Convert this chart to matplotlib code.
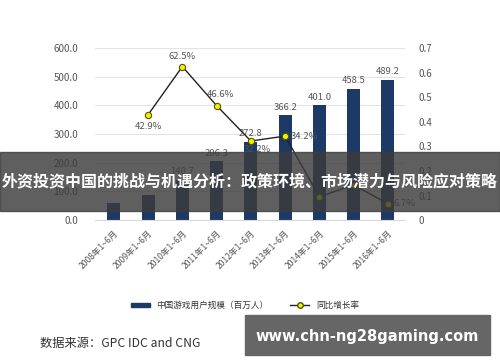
import matplotlib.pyplot as plt
from matplotlib.patches import Rectangle
from matplotlib.lines import Line2D

plt.rcParams['font.family'] = ['Noto Sans CJK SC', 'DejaVu Sans']

periods = ['2008年1~6月', '2009年1~6月', '2010年1~6月', '2011年1~6月', '2012年1~6月',
           '2013年1~6月', '2014年1~6月', '2015年1~6月', '2016年1~6月']
users = [60.6, 86.6, 140.7, 206.3, 272.8, 366.2, 401.0, 458.5, 489.2]
bar_labels = ['', '', '140.7', '206.3', '272.8', '366.2', '401.0', '458.5', '489.2']
growth = [None, 0.429, 0.625, 0.466, 0.322, 0.342, 0.095, 0.143, 0.067]
growth_labels = ['', '42.9%', '62.5%', '46.6%', '32.2%', '34.2%', '', '', '6.7%']

bar_color = '#1d3a66'
txt = '#555555'

fig = plt.figure(figsize=(5, 3.62), dpi=100)
ax = fig.add_axes([0.19, 0.392, 0.62, 0.475])
ax2 = ax.twinx()

x = list(range(len(periods)))
ax.bar(x, users, width=0.38, color=bar_color, zorder=2)
ax.set_ylim(0, 600)
ax.set_xlim(-0.55, 8.5)
ax.set_yticks(range(0, 601, 100))
ax.set_yticklabels(['%.1f' % v for v in range(0, 601, 100)], fontsize=7, color=txt)
ax.grid(axis='y', color='#e3e3e3', lw=0.8, zorder=0)
ax.set_xticks(x)
ax.set_xticklabels(periods, rotation=45, ha='right', rotation_mode='anchor', fontsize=6.2, color=txt)
for s in ax.spines.values():
    s.set_visible(False)
for s in ax2.spines.values():
    s.set_visible(False)
ax.spines['bottom'].set_visible(True)
ax.spines['bottom'].set_color('#d9d9d9')
ax.tick_params(axis='y', length=0, pad=12)
ax.tick_params(axis='x', length=0, pad=6)

for xi, v, lab in zip(x, users, bar_labels):
    if lab:
        ax.text(xi, v + 12, lab, ha='center', va='bottom', fontsize=6.8, color=txt)

gx = [xi for xi, g in zip(x, growth) if g is not None]
gy = [g for g in growth if g is not None]
ax2.plot(gx, gy, color='#222222', lw=1, marker='o', ms=4.5,
         mfc='#f0f000', mec='#555500', mew=0.8, zorder=3)
ax2.set_ylim(0, 0.7)
ax2.set_yticks([i / 10 for i in range(8)])
ax2.set_yticklabels(['0'] + ['%.1f' % (i / 10) for i in range(1, 8)], fontsize=7, color=txt)
ax2.tick_params(length=0, pad=10)

offsets = {1: (0, -0.05), 2: (0, 0.04), 3: (0.1, 0.045), 4: (0.2, -0.035), 5: (0.55, 0.0), 8: (0.5, 0.0)}
for i, lab in enumerate(growth_labels):
    if lab:
        dx, dy = offsets[i]
        ax2.text(i + dx, growth[i] + dy, lab, ha='center', va='center', fontsize=6.8, color=txt)

# legend
handles = [Rectangle((0, 0), 1, 1, color=bar_color),
           Line2D([], [], color='#222222', lw=1, marker='o', ms=4, mfc='#f0f000', mec='#555500')]
fig.legend(handles, ['中国游戏用户规模（百万人）', '同比增长率'], loc='center',
           bbox_to_anchor=(0.49, 0.157), ncol=2, frameon=False, fontsize=6.2,
           handlelength=2.2, handleheight=0.35, columnspacing=2.5, labelcolor='#333333')

fig.text(0.08, 0.052, '数据来源：GPC IDC and CNG', fontsize=8.8, color='#333333', va='center')

# overlay banner
fig.patches.append(Rectangle((0, 1 - 211 / 362), 1, 59 / 362, transform=fig.transFigure,
                             color='#3c3c3c', alpha=0.82, zorder=10))
fig.text(0.5, 1 - 181 / 362, '外资投资中国的挑战与机遇分析：政策环境、市场潜力与风险应对策略',
         ha='center', va='center', fontsize=11.5, color='white', fontweight='bold', zorder=11)

# watermark
fig.patches.append(Rectangle((245 / 500, 1 - 355 / 362), 245 / 500, 40 / 362,
                             transform=fig.transFigure, color='#666666', zorder=10))
fig.text(367 / 500, 1 - 336 / 362, 'www.chn-ng28gaming.com', ha='center', va='center',
         fontsize=10.5, color='white', fontweight='bold', family='DejaVu Sans', zorder=11)

fig.savefig('out.png', dpi=100)
